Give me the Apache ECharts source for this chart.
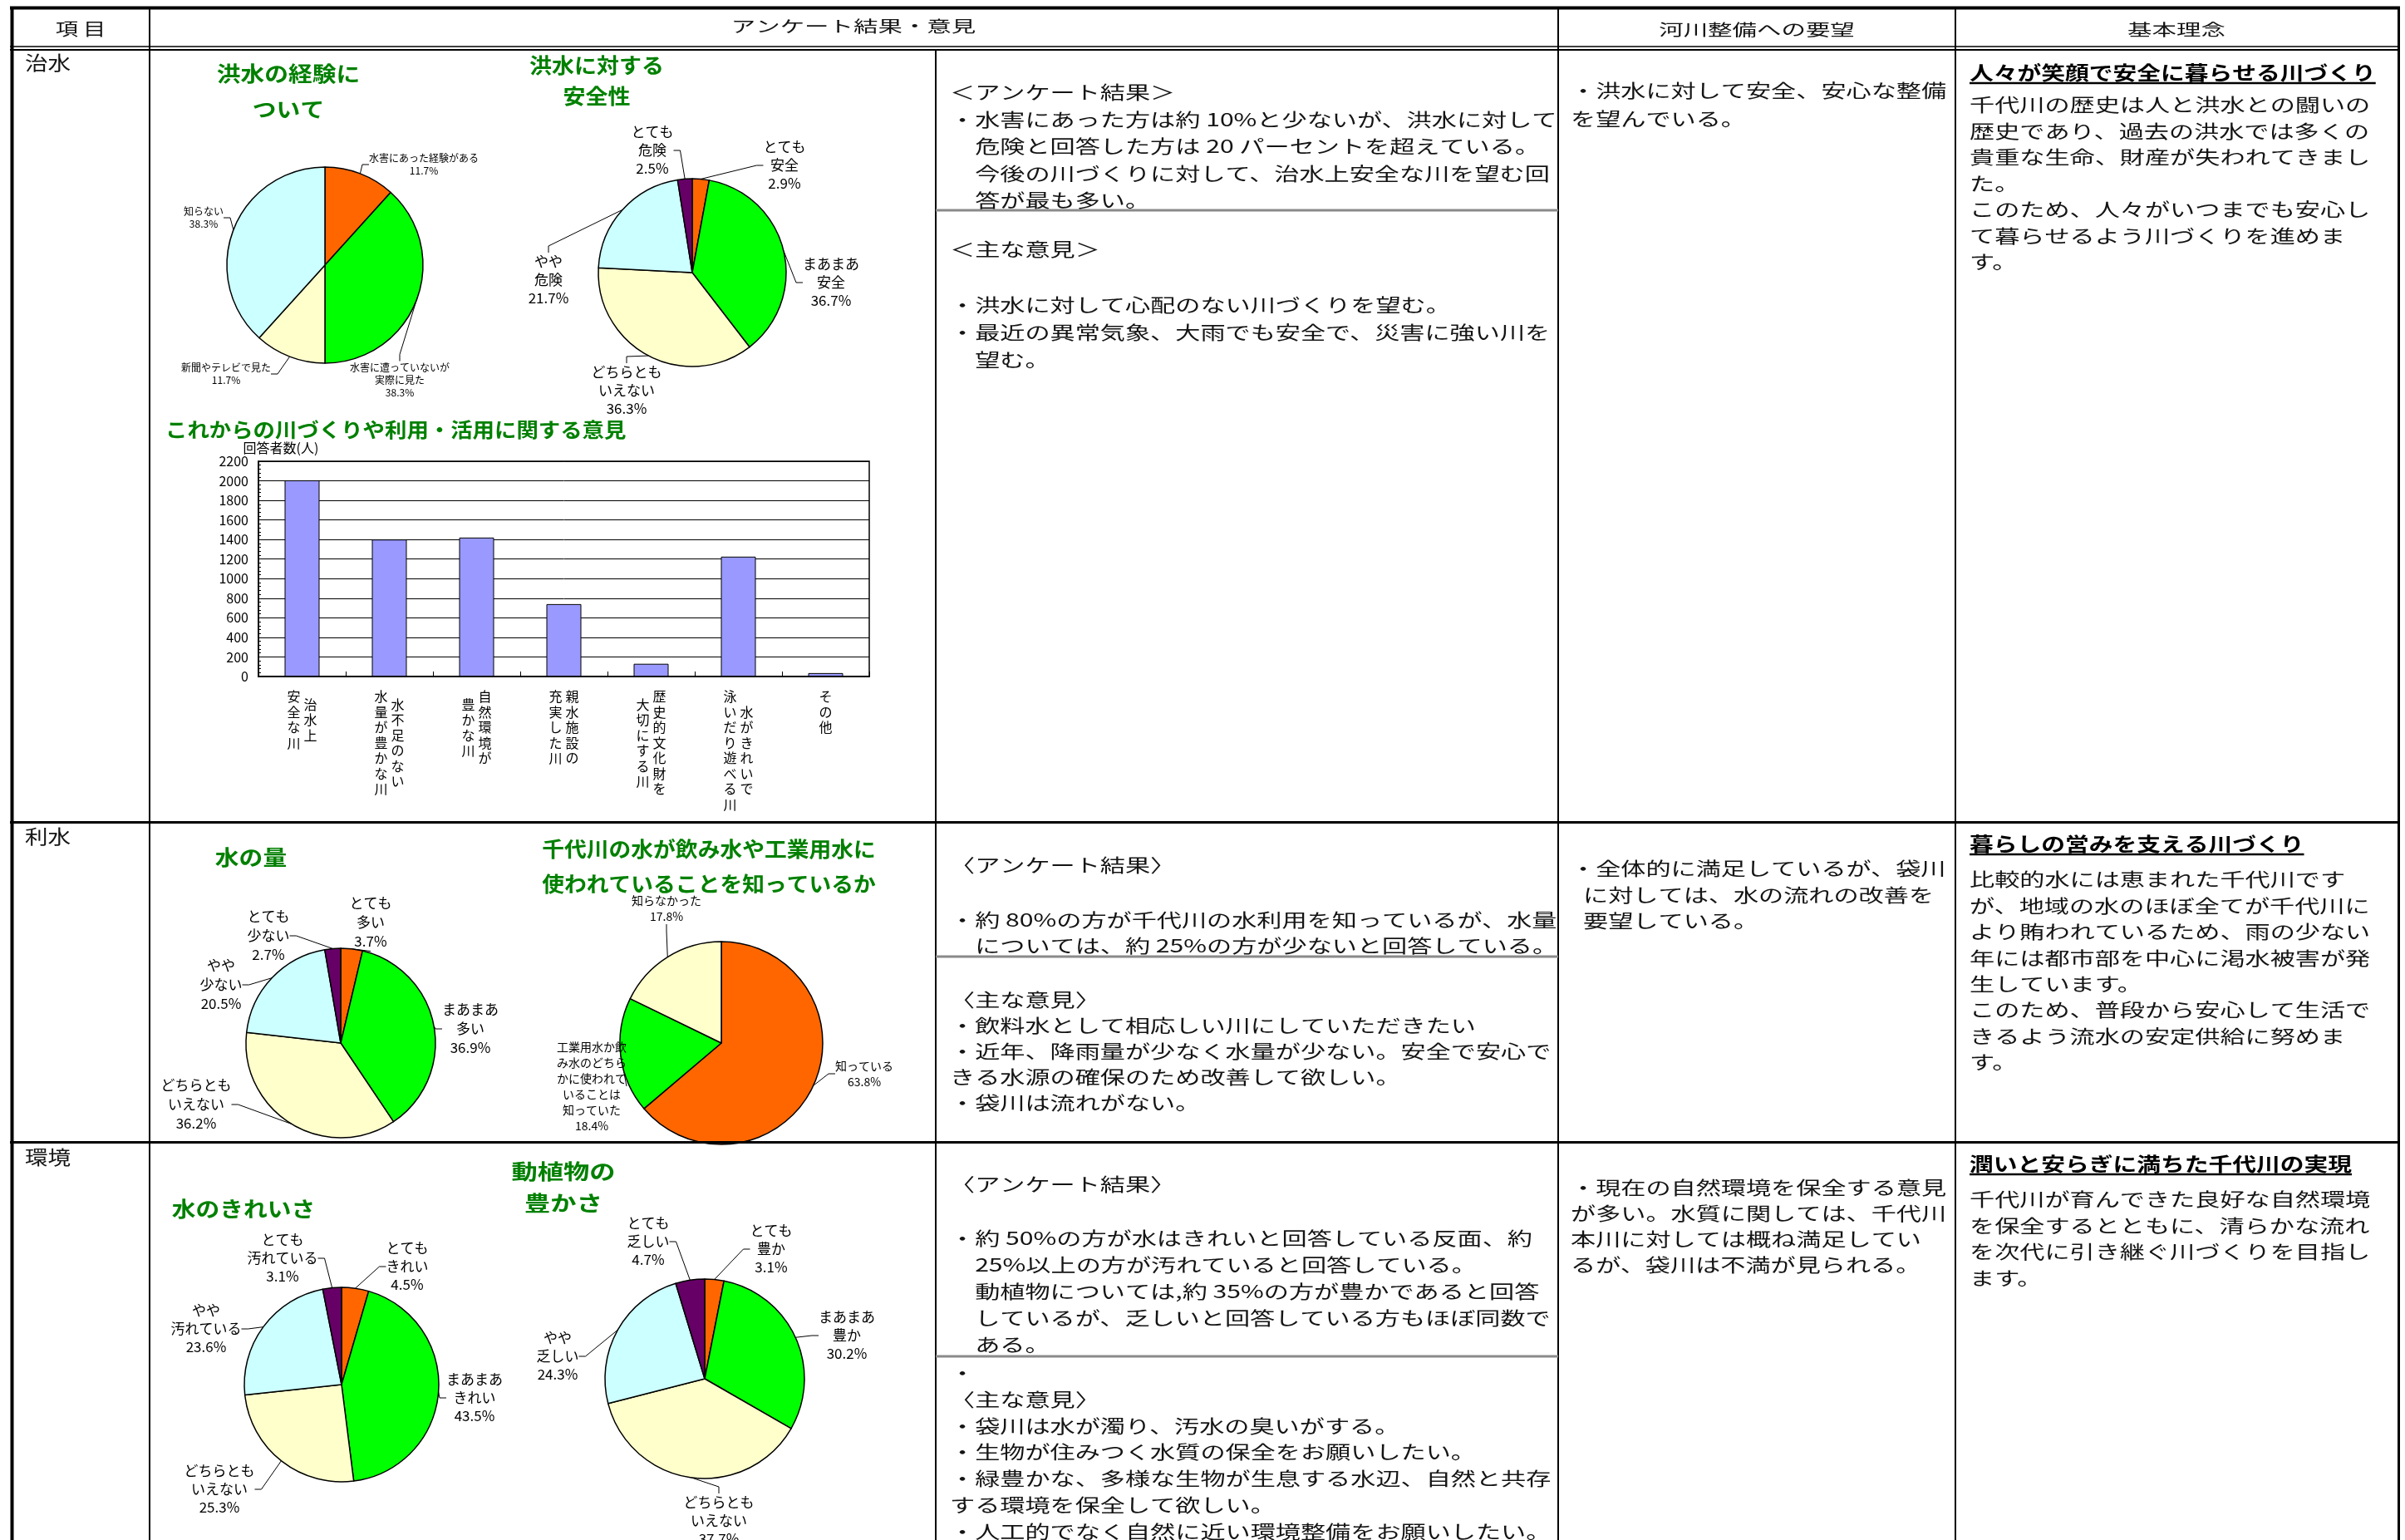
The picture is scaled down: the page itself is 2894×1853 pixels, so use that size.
<!DOCTYPE html>
<html><head><meta charset="utf-8">
<script src="https://cdn.jsdelivr.net/npm/echarts@6/dist/echarts.min.js"></script>
<style>html,body{margin:0;padding:0;background:#fff}#c{width:2894px;height:1853px}</style>
</head><body><div id="c"></div>
<script>
const FONT = '"Noto Sans CJK JP","Noto Sans",sans-serif';

// ---------- pie data ----------
const floodExpNames = ['水害にあった経験がある', '水害に遭っていないが\n実際に見た', '新聞やテレビで見た', '知らない'];
const floodExpValues = [11.7, 38.3, 11.7, 38.3];
const floodSafeNames = ['とても\n安全', 'まあまあ\n安全', 'どちらとも\nいえない', 'やや\n危険', 'とても\n危険'];
const floodSafeValues = [2.9, 36.7, 36.3, 21.7, 2.5];
const waterAmountNames = ['とても\n多い', 'まあまあ\n多い', 'どちらとも\nいえない', 'やや\n少ない', 'とても\n少ない'];
const waterAmountValues = [3.7, 36.9, 36.2, 20.5, 2.7];
const waterUseNames = ['知っている', '工業用水か飲\nみ水のどちら\nかに使われて\nいることは\n知っていた', '知らなかった'];
const waterUseValues = [63.8, 18.4, 17.8];
const cleanNames = ['とても\nきれい', 'まあまあ\nきれい', 'どちらとも\nいえない', 'やや\n汚れている', 'とても\n汚れている'];
const cleanValues = [4.5, 43.5, 25.3, 23.6, 3.1];
const richNames = ['とても\n豊か', 'まあまあ\n豊か', 'どちらとも\nいえない', 'やや\n乏しい', 'とても\n乏しい'];
const richValues = [3.1, 30.2, 37.7, 24.3, 4.7];

// ---------- bar data ----------
const barCategories = ['治水上安全な川', '水不足のない水量が豊かな川', '自然環境が豊かな川', '親水施設の充実した川', '歴史的文化財を大切にする川', '水がきれいで泳いだり遊べる川', 'その他'];
const barValues = [2005, 1400, 1420, 740, 130, 1225, 35];
const barLabelRight = ['治水上', '水不足のない', '自然環境が', '親水施設の', '歴史的文化財を', '水がきれいで', ''];
const barLabelLeft = ['安全な川', '水量が豊かな川', '豊かな川', '充実した川', '大切にする川', '泳いだり遊べる川', ''];
const barLabelCenter = ['', '', '', '', '', '', 'その他'];
const yMin = 0, yMax = 2200, yStep = 200;

// ---------- titles ----------
const titleFloodExp = ['洪水の経験に', 'ついて'];
const titleFloodSafe = ['洪水に対する', '安全性'];
const titleBar = 'これからの川づくりや利用・活用に関する意見';
const titleWaterAmount = '水の量';
const titleWaterUse = ['千代川の水が飲み水や工業用水に', '使われていることを知っているか'];
const titleClean = '水のきれいさ';
const titleRich = ['動植物の', '豊かさ'];
const yAxisName = '回答者数(人)';

// ---------- table texts ----------
const headerTexts = ['項 目', 'アンケート結果・意見', '河川整備への要望', '基本理念'];
const rowNames = ['治水', '利水', '環境'];
const txtSurvey1 = ['＜アンケート結果＞', '・水害にあった方は約 10%と少ないが、洪水に対して', '　危険と回答した方は 20 パーセントを超えている。', '　今後の川づくりに対して、治水上安全な川を望む回', '　答が最も多い。'];
const txtOpinionHead1 = '＜主な意見＞';
const txtOpinion1 = ['・洪水に対して心配のない川づくりを望む。', '・最近の異常気象、大雨でも安全で、災害に強い川を', '　望む。'];
const txtRequest1 = ['・洪水に対して安全、安心な整備', 'を望んでいる。'];
const txtPrincipleHead1 = '人々が笑顔で安全に暮らせる川づくり';
const txtPrinciple1 = ['千代川の歴史は人と洪水との闘いの', '歴史であり、過去の洪水では多くの', '貴重な生命、財産が失われてきまし', 'た。', 'このため、人々がいつまでも安心し', 'て暮らせるよう川づくりを進めま', 'す。'];

const txtSurveyHead2 = '〈アンケート結果〉';
const txtSurvey2 = ['・約 80%の方が千代川の水利用を知っているが、水量', '　については、約 25%の方が少ないと回答している。'];
const txtOpinion2 = ['〈主な意見〉', '・飲料水として相応しい川にしていただきたい', '・近年、降雨量が少なく水量が少ない。安全で安心で', 'きる水源の確保のため改善して欲しい。', '・袋川は流れがない。'];
const txtRequest2 = ['・全体的に満足しているが、袋川', '\u2002に対しては、水の流れの改善を', '\u2002要望している。'];
const txtPrincipleHead2 = '暮らしの営みを支える川づくり';
const txtPrinciple2 = ['比較的水には恵まれた千代川です', 'が、地域の水のほぼ全てが千代川に', 'より賄われているため、雨の少ない', '年には都市部を中心に渇水被害が発', '生しています。', 'このため、普段から安心して生活で', 'きるよう流水の安定供給に努めま', 'す。'];

const txtSurveyHead3 = '〈アンケート結果〉';
const txtSurvey3 = ['・約 50%の方が水はきれいと回答している反面、約', '　25%以上の方が汚れていると回答している。', '　動植物については,約 35%の方が豊かであると回答', '　しているが、乏しいと回答している方もほぼ同数で', '　ある。'];
const txtOpinion3 = ['・', '〈主な意見〉', '・袋川は水が濁り、汚水の臭いがする。', '・生物が住みつく水質の保全をお願いしたい。', '・緑豊かな、多様な生物が生息する水辺、自然と共存', 'する環境を保全して欲しい。', '・人工的でなく自然に近い環境整備をお願いしたい。'];
const txtRequest3 = ['・現在の自然環境を保全する意見', 'が多い。水質に関しては、千代川', '本川に対しては概ね満足してい', 'るが、袋川は不満が見られる。'];
const txtPrincipleHead3 = '潤いと安らぎに満ちた千代川の実現';
const txtPrinciple3 = ['千代川が育んできた良好な自然環境', 'を保全するとともに、清らかな流れ', 'を次代に引き継ぐ川づくりを目指し', 'ます。'];

// ---------- styles / layout ----------
const PAL5 = ['#FF6600', '#00FF00', '#FFFFCC', '#CCFFFF', '#660066'];
const PAL4 = ['#FF6600', '#00FF00', '#FFFFCC', '#CCFFFF'];
const PAL3 = ['#FF6600', '#00FF00', '#FFFFCC'];
const GREEN = '#008000';
const INK = '#141414';

// label block centres (page px) for each pie, in slice order
const LABEL_POS = {
  floodExp: [[510, 198], [481, 457], [272, 450], [245, 262]],
  floodSafe: [[944, 199], [1000, 340], [754, 470], [660, 337], [785, 181]],
  waterAmount: [[446, 1110], [566, 1238], [236, 1329], [266, 1185], [323, 1126]],
  waterUse: [[1040, 1292], [712, 1307], [802, 1093]],
  clean: [[490, 1524], [571, 1682], [264, 1792], [248, 1599], [340, 1514]],
  rich: [[928, 1503], [1019, 1607], [865, 1830], [671, 1632], [780, 1494]]
};

const mctx = document.createElement('canvas').getContext('2d');
function textW(t, fs, fw) { mctx.font = `${fw || 'normal'} ${fs}px ${FONT}`; return mctx.measureText(t).width; }

function txt(x, y, text, o) {
  o = o || {};
  return {
    type: 'text', x: x, y: y, scaleX: o.sx || 1.37, z: 100, silent: true,
    style: {
      text: text, fontSize: o.fs || 22, fontFamily: FONT, fontWeight: o.fw || 'normal',
      fill: o.color || INK, align: o.align || 'left', verticalAlign: 'middle',
      textAlign: o.align || 'left', textVerticalAlign: 'middle'
    }
  };
}
function block(lines, x, y0, lh, o) { return lines.map((l, i) => txt(x, y0 + i * lh, l, o)); }
function ln(x1, y1, x2, y2, w, color) {
  return { type: 'line', z: 90, silent: true, shape: { x1, y1, x2, y2 }, style: { stroke: color || '#000', lineWidth: w } };
}
function heading(x, y, text) {
  const o = { fs: 23, fw: 'bold', sx: 1.25, color: '#000' };
  const w = textW(text, o.fs, o.fw) * o.sx;
  return [txt(x, y, text, o), ln(x, y + 13, x + w, y + 13, 2.5)];
}

const G = [];
// table frame
G.push(ln(12, 9.5, 2888, 9.5, 4));
G.push(ln(14.5, 8, 14.5, 1853, 4));
G.push(ln(2886.5, 8, 2886.5, 1853, 3));
G.push(ln(180, 8, 180, 1853, 2));
G.push(ln(1875, 8, 1875, 1853, 2));
G.push(ln(2353, 8, 2353, 1853, 2));
G.push(ln(1126, 60, 1126, 1853, 2));
G.push(ln(12, 56, 2888, 56, 1.5));
G.push(ln(12, 60, 2888, 60, 2));
G.push(ln(12, 989.5, 2888, 989.5, 3));
G.push(ln(12, 1374.5, 2888, 1374.5, 3));
G.push(ln(1126, 253, 1875, 253, 3, '#8a8a8a'));
G.push(ln(1126, 1151, 1875, 1151, 3, '#8a8a8a'));
G.push(ln(1126, 1632, 1875, 1632, 3, '#8a8a8a'));

// header
const hdr = { fs: 19, sx: 1.55, align: 'center' };
G.push(txt(97, 34, headerTexts[0], { fs: 21, sx: 1.3, align: 'center' }));
G.push(txt(1027, 32, headerTexts[1], hdr));
G.push(txt(2114, 36, headerTexts[2], hdr));
G.push(txt(2619, 36, headerTexts[3], hdr));
// row names
const rn = { fs: 23, sx: 1.2 };
G.push(txt(30, 75, rowNames[0], rn));
G.push(txt(30, 1006, rowNames[1], rn));
G.push(txt(30, 1392, rowNames[2], rn));

// chart titles
const tt = { fs: 25, fw: 'bold', sx: 1.15, color: GREEN, align: 'center' };
G.push(...block(titleFloodExp, 347, 88, 43, tt));
G.push(...block(titleFloodSafe, 718, 78, 37, Object.assign({}, tt, { sx: 1.08 })));
G.push(txt(199, 517, titleBar, { fs: 24, fw: 'bold', sx: 1.1, color: GREEN }));
G.push(txt(302, 1031, titleWaterAmount, tt));
G.push(...block(titleWaterUse, 853, 1021, 42, Object.assign({}, tt, { sx: 1.07 })));
G.push(txt(293, 1454, titleClean, tt));
G.push(...block(titleRich, 678, 1409, 38, Object.assign({}, tt, { sx: 1.25 })));

// text columns
const body = { fs: 22, sx: 1.37 };
G.push(...block(txtSurvey1, 1143, 111, 32.5, body));
G.push(txt(1143, 300, txtOpinionHead1, body));
G.push(...block(txtOpinion1, 1143, 367, 33, body));
G.push(...block(txtRequest1, 1890, 109, 34, body));
G.push(...heading(2370, 87, txtPrincipleHead1));
G.push(...block(txtPrinciple1, 2370, 126, 31.5, body));

G.push(txt(1143, 1041, txtSurveyHead2, body));
G.push(...block(txtSurvey2, 1143, 1107, 30.5, body));
G.push(...block(txtOpinion2, 1143, 1203, 31, body));
G.push(...block(txtRequest2, 1890, 1045, 31.5, body));
G.push(...heading(2370, 1015, txtPrincipleHead2));
G.push(...block(txtPrinciple2, 2370, 1058, 31.4, body));

G.push(txt(1143, 1425, txtSurveyHead3, body));
G.push(...block(txtSurvey3, 1143, 1490, 32, body));
G.push(...block(txtOpinion3, 1143, 1652, 31.7, body));
G.push(...block(txtRequest3, 1890, 1429, 31, body));
G.push(...heading(2370, 1400, txtPrincipleHead3));
G.push(...block(txtPrinciple3, 2370, 1443, 31.5, body));

// ---------- pies ----------
function pieSeries(key, names, values, colors, center, r, lab) {
  const pos = LABEL_POS[key];
  return {
    type: 'pie', center: center, radius: r, startAngle: 90, clockwise: true, silent: true,
    avoidLabelOverlap: false, animation: false, z: 3,
    data: names.map((n, i) => ({ name: n, value: values[i], itemStyle: { color: colors[i] } })),
    itemStyle: { borderColor: '#000', borderWidth: 1.5 },
    label: {
      show: true, position: 'outside', color: '#000', fontFamily: FONT,
      fontSize: lab.fs, lineHeight: lab.lh,
      formatter: p => p.name + '\n' + p.value.toFixed(1) + '%'
    },
    labelLine: { show: true, length: 12, length2: 8, lineStyle: { color: '#000', width: 1 } },
    labelLayout: p => ({ x: pos[p.dataIndex][0], y: pos[p.dataIndex][1], align: 'center', verticalAlign: 'middle', hideOverlap: false, moveOverlap: null }),
    emphasis: { disabled: true }
  };
}

function colText(s, other) {
  if (!s) return '';
  const off = Math.max(0, other.length - s.length);
  const b = s.split('').join('\n');
  return off > 0 ? '{sp' + off + '|\u3000}\n' + b : b;
}
const spRich = { sp1: { lineHeight: 9.25, fontSize: 8 }, sp2: { lineHeight: 18.5, fontSize: 8 } };
const xLab = { interval: 0, verticalAlign: 'top', margin: 15, fontSize: 16, lineHeight: 18.5, color: '#000', fontFamily: FONT, rich: spRich };

const option = {
  animation: false,
  backgroundColor: '#fff',
  textStyle: { fontFamily: FONT },
  graphic: { elements: G },
  grid: [{ left: 311, top: 555, width: 735, height: 259, show: true, borderColor: '#000', borderWidth: 1.5, backgroundColor: 'rgba(0,0,0,0)' }],
  xAxis: [
    { type: 'category', gridIndex: 0, position: 'bottom', data: barCategories,
      axisLine: { show: true, lineStyle: { color: '#000', width: 2 } },
      axisTick: { show: true, inside: true, length: 6, lineStyle: { color: '#000' } },
      splitLine: { show: false },
      axisLabel: Object.assign({}, xLab, { align: 'left', padding: [0, 0, 0, 2], formatter: (v, i) => colText(barLabelRight[i], barLabelLeft[i]) }) },
    { type: 'category', gridIndex: 0, position: 'bottom', data: barCategories,
      axisLine: { show: false }, axisTick: { show: false }, splitLine: { show: false },
      axisLabel: Object.assign({}, xLab, { align: 'right', padding: [0, 2, 0, 0], formatter: (v, i) => colText(barLabelLeft[i], barLabelRight[i]) }) },
    { type: 'category', gridIndex: 0, position: 'bottom', data: barCategories,
      axisLine: { show: false }, axisTick: { show: false }, splitLine: { show: false },
      axisLabel: Object.assign({}, xLab, { align: 'center', formatter: (v, i) => colText(barLabelCenter[i], '') }) }
  ],
  yAxis: [{
    type: 'value', gridIndex: 0, min: yMin, max: yMax, interval: yStep,
    name: yAxisName, nameLocation: 'end', nameGap: 7,
    nameTextStyle: { fontSize: 16, color: '#000', padding: [0, 0, 0, 54], fontFamily: FONT },
    axisLine: { show: true, lineStyle: { color: '#000', width: 1.5 } },
    axisTick: { show: true, inside: true, length: 5, lineStyle: { color: '#000' } },
    minorTick: { show: true, splitNumber: 5, length: 3, lineStyle: { color: '#000' } },
    axisLabel: { fontSize: 16, color: '#000', margin: 12, fontFamily: FONT, formatter: v => String(v) },
    splitLine: { show: true, lineStyle: { color: '#000', width: 1 } }
  }],
  series: [
    pieSeries('floodExp', floodExpNames, floodExpValues, PAL4, [391, 319], 118, { fs: 12, lh: 15 }),
    pieSeries('floodSafe', floodSafeNames, floodSafeValues, PAL5, [833, 328], 113, { fs: 17, lh: 22 }),
    pieSeries('waterAmount', waterAmountNames, waterAmountValues, PAL5, [410, 1255], 114, { fs: 17, lh: 23 }),
    pieSeries('waterUse', waterUseNames, waterUseValues, PAL3, [868, 1255], 122, { fs: 14, lh: 19 }),
    pieSeries('clean', cleanNames, cleanValues, PAL5, [411, 1666], 117, { fs: 17, lh: 22 }),
    pieSeries('rich', richNames, richValues, PAL5, [848, 1659], 120, { fs: 17, lh: 22 }),
    { type: 'bar', xAxisIndex: 0, yAxisIndex: 0, data: barValues, barWidth: '40%', silent: true,
      itemStyle: { color: '#9999FF', borderColor: '#000', borderWidth: 1 } }
  ]
};

const chart = echarts.init(document.getElementById('c'), null, { renderer: 'canvas', width: 2894, height: 1853 });
chart.setOption(option);
</script>
</body></html>
